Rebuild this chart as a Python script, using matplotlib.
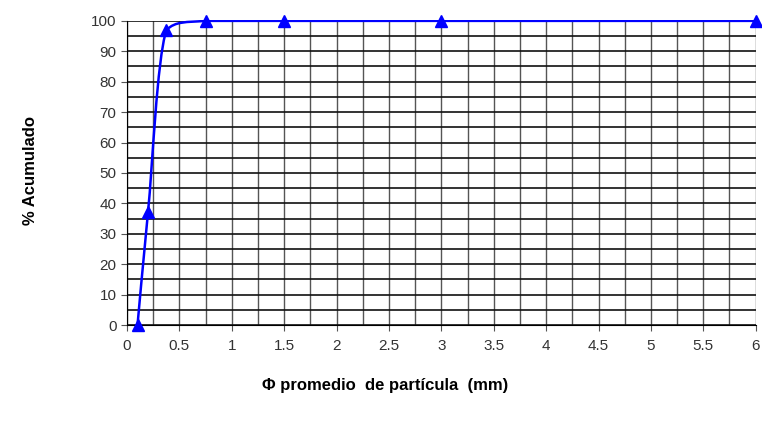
import numpy as np
import matplotlib.pyplot as plt
from matplotlib.path import Path
from matplotlib.patches import PathPatch, Rectangle
from matplotlib.ticker import MultipleLocator, FormatStrFormatter

plt.rcParams['font.family'] = ['Liberation Sans', 'DejaVu Sans']

# datos
diametro = [0.1, 0.2, 0.375, 0.75, 1.5, 3.0, 6.0]
acumulado = [0, 37, 97, 100, 100, 100, 100]


def curva_suave(x, y):
    # curva tipo Excel (Catmull-Rom -> Bezier cubica), sin pasarse en y
    p = np.column_stack([x, y]).astype(float)
    n = len(p)
    verts = [p[0]]
    codes = [Path.MOVETO]
    for i in range(n - 1):
        p0 = p[max(i - 1, 0)]
        p1, p2 = p[i], p[i + 1]
        p3 = p[min(i + 2, n - 1)]
        c1 = p1 + (p2 - p0) / 6
        c2 = p2 - (p3 - p1) / 6
        lo, hi = min(p1[1], p2[1]), max(p1[1], p2[1])
        c1[1] = np.clip(c1[1], lo, hi)
        c2[1] = np.clip(c2[1], lo, hi)
        verts += [c1, c2, p2]
        codes += [Path.CURVE4] * 3
    return Path(verts, codes)


fig = plt.figure(figsize=(7.62, 4.26), dpi=100)
ax = fig.add_axes([0.1667, 0.237, 0.825, 0.714])

curva = PathPatch(curva_suave(diametro, acumulado), fill=False,
                  edgecolor='#0000ff', lw=1.8, zorder=3)
ax.add_patch(curva)
# recorte un poco por encima de 100 para que la linea en 100 se vea entera
curva.set_clip_path(Rectangle((0, -3), 6, 103.4, transform=ax.transData))

ax.plot(diametro, acumulado, ls='none', marker='^', ms=8,
        color='#0000ff', clip_on=False, zorder=4)

ax.set_xlim(0, 6)
ax.set_ylim(0, 100)
ax.xaxis.set_major_locator(MultipleLocator(0.5))
ax.xaxis.set_minor_locator(MultipleLocator(0.25))
ax.yaxis.set_major_locator(MultipleLocator(10))
ax.yaxis.set_minor_locator(MultipleLocator(5))
ax.xaxis.set_major_formatter(FormatStrFormatter('%g'))

ax.grid(True, which='both', axis='x', color='#555555', lw=1.0)
ax.grid(True, which='both', axis='y', color='#111111', lw=1.2)
ax.set_axisbelow(True)

for s in ['top', 'right']:
    ax.spines[s].set_visible(False)
ax.spines['left'].set_color('black')
ax.spines['bottom'].set_color('black')

ax.tick_params(axis='both', which='major', labelsize=11, length=4,
               color='#555555', labelcolor='#333333')
ax.tick_params(axis='x', which='major', pad=6)
ax.tick_params(axis='both', which='minor', length=0)

fig.text(0.04, 0.6, '% Acumulado', rotation=90, ha='center', va='center',
         fontsize=12, fontweight='bold')
fig.text(0.505, 0.095, 'Φ promedio  de partícula  (mm)', ha='center',
         va='center', fontsize=12, fontweight='bold')

fig.savefig('out.png', dpi=100)
